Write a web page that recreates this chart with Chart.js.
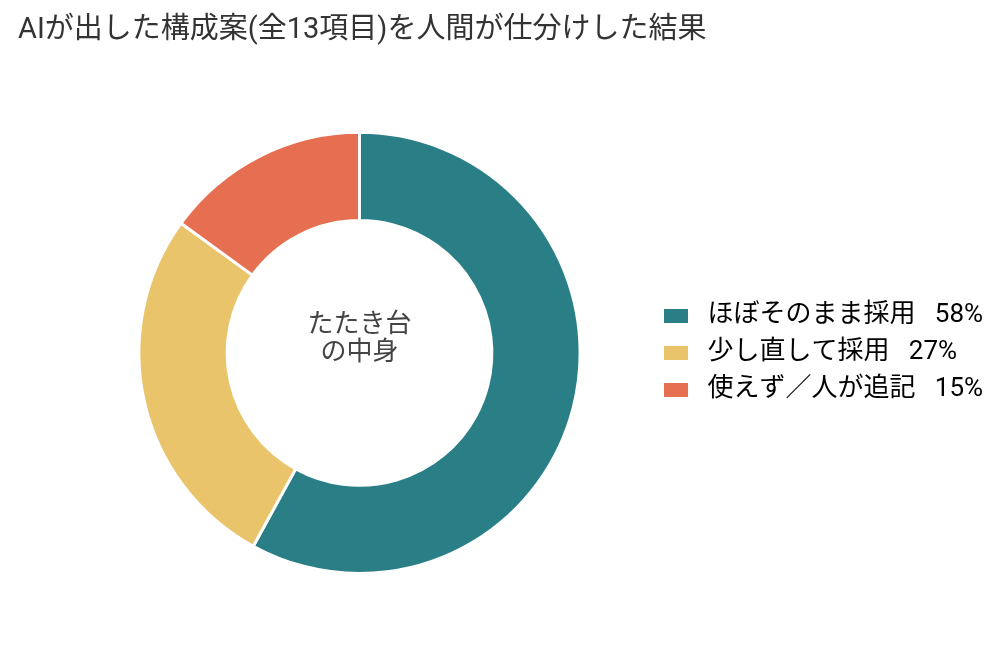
<!DOCTYPE html>
<html>
<head>
<meta charset="utf-8">
<script src="https://cdn.jsdelivr.net/npm/chart.js@4"></script>
<style>
  html, body { margin: 0; padding: 0; background: #fff; }
  #wrap { width: 1008px; height: 648px; }
</style>
</head>
<body>
<div id="wrap"><canvas id="chart" width="1008" height="648"></canvas></div>
<script>
var titleText = "AIが出した構成案(全13項目)を人間が仕分けした結果";
var categories = ["ほぼそのまま採用", "少し直して採用", "使えず／人が追記"];
var shares = [58, 27, 15];
var colors = ["#2a7f86", "#e9c46a", "#e76f51"];
var centerLines = ["たたき台", "の中身"];

var FONT = "Roboto, 'Noto Sans CJK JP', sans-serif";

// centre label inside the hole
var centerText = {
    id: 'centerText',
    afterDraw: function(chart) {
        var arc = chart.getDatasetMeta(0).data[0];
        if (!arc) return;
        var ctx = chart.ctx;
        ctx.save();
        ctx.fillStyle = "#444";
        ctx.font = "26px " + FONT;
        ctx.textAlign = "center";
        ctx.textBaseline = "middle";
        ctx.fillText(centerLines[0], arc.x, arc.y - 27);
        ctx.fillText(centerLines[1], arc.x, arc.y + 1);
        ctx.restore();
    }
};

// legend width fixed, title pulled to the left edge, legend centred on the doughnut
var placeBoxes = {
    id: 'placeBoxes',
    beforeInit: function(chart) {
        var fit = chart.legend.fit;
        chart.legend.fit = function() {
            fit.call(this);
            this.width = 355;
        };
    },
    afterLayout: function(chart) {
        chart.titleBlock.left = 18;
        chart.legend.top = chart.chartArea.top;
        chart.legend.bottom = chart.chartArea.bottom;
    }
};

var ctx = document.getElementById("chart").getContext('2d');
var chart = new Chart(ctx, {
    type: 'doughnut',
    data: {
        labels: categories,
        datasets: [{
            data: shares,
            backgroundColor: colors,
            borderColor: "#fff",
            borderWidth: 3
        }]
    },
    options: {
        responsive: false,
        animation: false,
        cutout: '60%',
        layout: { padding: { left: 66, right: 0, top: 0, bottom: 73 } },
        plugins: {
            title: {
                display: true,
                text: titleText,
                align: 'start',
                color: "#333",
                font: { family: FONT, size: 29, weight: 'normal' },
                padding: { top: 13, bottom: 83 }
            },
            legend: {
                position: 'right',
                labels: {
                    color: "#222",
                    font: { family: FONT, size: 26 },
                    boxWidth: 24,
                    boxHeight: 14,
                    padding: 11,
                    generateLabels: function(chart) {
                        return categories.map(function(c, i) {
                            return {
                                text: " " + c + "   " + shares[i] + "%",
                                fillStyle: colors[i],
                                strokeStyle: colors[i],
                                lineWidth: 0,
                                index: i
                            };
                        });
                    }
                }
            },
            tooltip: { enabled: false }
        }
    },
    plugins: [centerText, placeBoxes]
});
</script>
</body>
</html>
